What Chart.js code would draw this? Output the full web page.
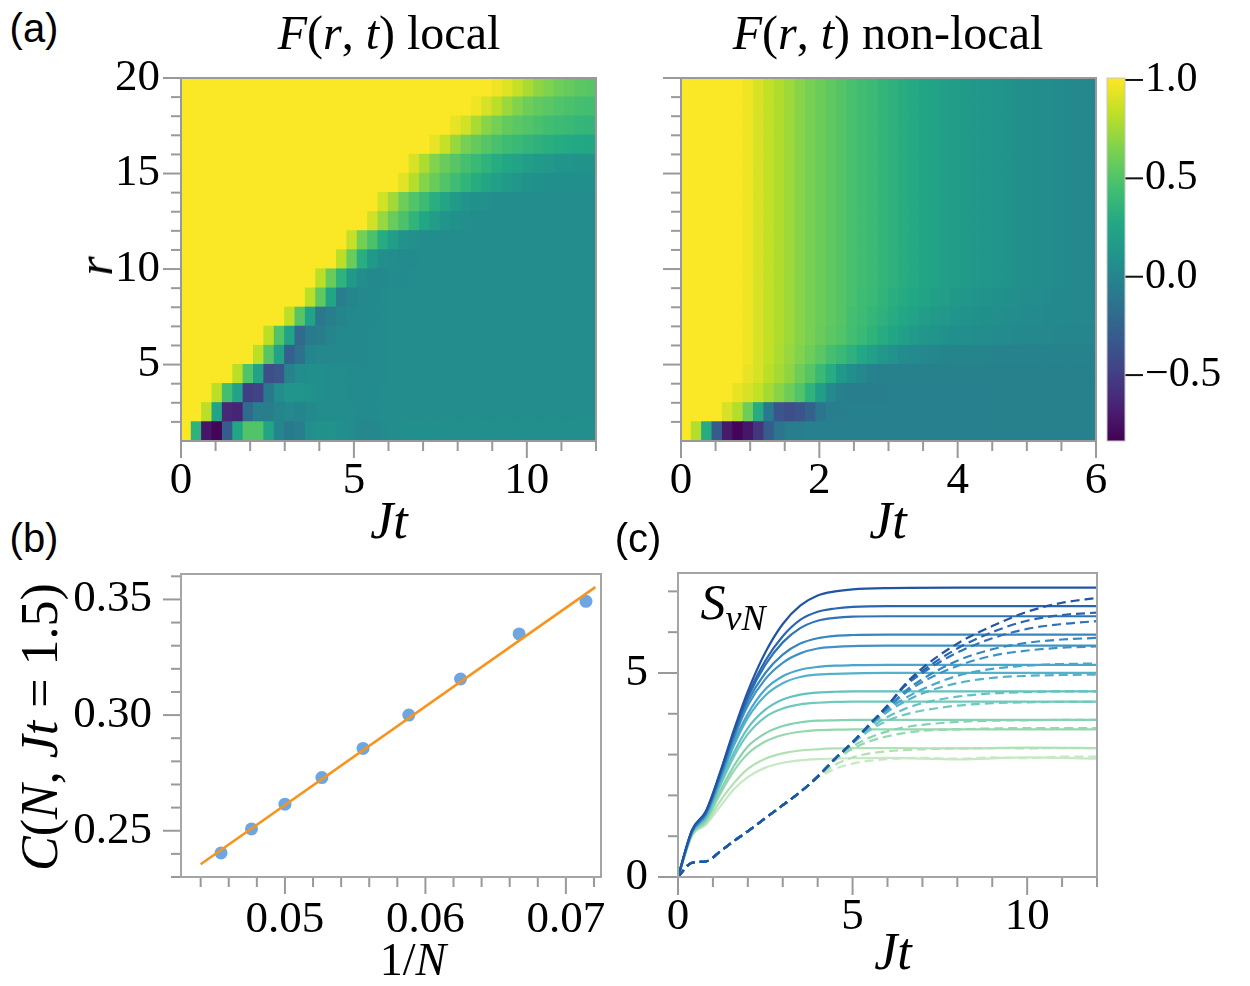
<!DOCTYPE html>
<html>
<head>
<meta charset="utf-8">
<title>F(r,t) local / non-local</title>
<script src="https://cdn.jsdelivr.net/npm/chart.js@4.4.1/dist/chart.umd.min.js"></script>
<style>
  body { margin: 0; width: 1250px; height: 986px; background: #fff; position: relative; overflow: hidden; font-family: 'Liberation Serif', serif; }
  .box { position: absolute; }
  .txt { position: absolute; transform: translate(-50%, -50%); white-space: nowrap; color: #000; line-height: 1; }
  .sans { font-family: 'Liberation Sans', sans-serif; }
  .rot { transform: translate(-50%, -50%) rotate(-90deg); }
</style>
</head>
<body>
<div class="box" style="left:81px;top:48px;width:535px;height:473px"><canvas id="local"></canvas></div>
<div class="box" style="left:661px;top:48px;width:449px;height:473px"><canvas id="nonlocal"></canvas></div>
<div class="box" style="left:1105px;top:48px;width:130px;height:423px"><canvas id="cbar"></canvas></div>
<div class="box" style="left:71px;top:544px;width:550px;height:413px"><canvas id="fit"></canvas></div>
<div class="box" style="left:608px;top:543px;width:509px;height:404px"><canvas id="svn"></canvas></div>

<div class="txt sans" style="left:34px;top:28px;font-size:40px">(a)</div>
<div class="txt" style="left:389px;top:33px;font-size:48px"><i>F</i>(<i>r</i>, <i>t</i>) local</div>
<div class="txt" style="left:888px;top:33px;font-size:48px"><i>F</i>(<i>r</i>, <i>t</i>) non-local</div>
<div class="txt rot" style="left:95px;top:266px;font-size:50px"><i>r</i></div>
<div class="txt" style="left:389px;top:521px;font-size:52px"><i>Jt</i></div>
<div class="txt" style="left:888px;top:521px;font-size:52px"><i>Jt</i></div>
<div class="txt sans" style="left:34px;top:538px;font-size:40px">(b)</div>
<div class="txt rot" style="left:40px;top:727px;font-size:52px"><i>C</i>(<i>N</i>, <i>Jt</i> = 1.5)</div>
<div class="txt" style="left:413px;top:960px;font-size:46px">1/<i>N</i></div>
<div class="txt sans" style="left:638px;top:538px;font-size:40px">(c)</div>
<div class="txt" style="left:733px;top:606px;font-size:50px"><i>S</i><sub style="font-size:36px"><i>vN</i></sub></div>
<div class="txt" style="left:893px;top:952px;font-size:52px"><i>Jt</i></div>

<script>
// ---------- panel (a): heatmap grids ----------
const rValues = [1, 2, 3, 4, 5, 6, 7, 8, 9, 10, 11, 12, 13, 14, 15, 16, 17, 18, 19];
const localTimes = [0.15, 0.45, 0.75, 1.05, 1.35, 1.65, 1.95, 2.25, 2.55, 2.85, 3.15, 3.45, 3.75, 4.05, 4.35, 4.65, 4.95, 5.25, 5.55, 5.85,
  6.15, 6.45, 6.75, 7.05, 7.35, 7.65, 7.95, 8.25, 8.55, 8.85, 9.15, 9.45, 9.75, 10.05, 10.35, 10.65, 10.95, 11.25, 11.55, 11.85];
const nonlocalTimes = [0.075, 0.225, 0.375, 0.525, 0.675, 0.825, 0.975, 1.125, 1.275, 1.425, 1.575, 1.725, 1.875, 2.025, 2.175, 2.325, 2.475, 2.625, 2.775, 2.925,
  3.075, 3.225, 3.375, 3.525, 3.675, 3.825, 3.975, 4.125, 4.275, 4.425, 4.575, 4.725, 4.875, 5.025, 5.175, 5.325, 5.475, 5.625, 5.775, 5.925];

// F(r,t) local, one array per r (r = 1 at the bottom)
const local_r1 = [1, .35, -.72, -.82, -.3, .25, .5, .5, .25, 0, -.08, -.05, .08, .1, .1, .08, .05, .02, .02, .04,
  .06, .07, .08, .08, .08, .07, .07, .07, .07, .07, .07, .07, .07, .07, .07, .07, .07, .07, .07, .07];
const local_r2 = [1, 1, .82, .25, -.62, -.65, -.2, -.05, -.05, 0, .02, 0, .03, .05, .06, .06, .05, .04, .04, .05,
  .06, .06, .06, .06, .06, .06, .06, .06, .06, .06, .06, .06, .06, .06, .06, .06, .06, .06, .06, .06];
const local_r3 = [1, 1, 1, .82, .45, .22, -.5, -.48, -.1, .05, .12, .12, .1, .08, .06, .05, .04, .04, .04, .05,
  .05, .05, .05, .05, .05, .05, .05, .05, .05, .05, .05, .05, .05, .05, .05, .05, .05, .05, .05, .05];
const local_r4 = [1, 1, 1, 1, 1, .82, .5, .22, -.4, -.35, -.02, .05, .08, .08, .06, .05, .04, .04, .04, .04,
  .05, .05, .05, .05, .05, .05, .05, .05, .05, .05, .05, .05, .05, .05, .05, .05, .05, .05, .05, .05];
const local_r5 = [1, 1, 1, 1, 1, 1, 1, .82, .52, .22, -.28, -.15, 0, .02, .03, .03, .03, .03, .04, .04,
  .05, .05, .05, .05, .05, .05, .05, .05, .05, .05, .05, .05, .05, .05, .05, .05, .05, .05, .05, .05];
const local_r6 = [1, 1, 1, 1, 1, 1, 1, 1, .82, .5, .22, -.2, -.08, -.05, 0, .02, .03, .03, .04, .04,
  .05, .05, .05, .05, .05, .05, .05, .05, .05, .05, .05, .05, .05, .05, .05, .05, .05, .05, .05, .05];
const local_r7 = [1, 1, 1, 1, 1, 1, 1, 1, 1, 1, .82, .52, .22, -.1, -.05, 0, .02, .03, .03, .04,
  .05, .05, .05, .05, .05, .05, .05, .05, .05, .05, .05, .05, .05, .05, .05, .05, .05, .05, .05, .05];
const local_r8 = [1, 1, 1, 1, 1, 1, 1, 1, 1, 1, 1, 1, .82, .55, .25, -.05, 0, .02, .03, .04,
  .05, .05, .05, .05, .05, .05, .05, .05, .05, .05, .05, .05, .05, .05, .05, .05, .05, .05, .05, .05];
const local_r9 = [1, 1, 1, 1, 1, 1, 1, 1, 1, 1, 1, 1, 1, .82, .58, .35, .15, .05, .03, .03,
  .04, .04, .05, .05, .05, .05, .05, .05, .05, .05, .05, .05, .05, .05, .05, .05, .05, .05, .05, .05];
const local_r10 = [1, 1, 1, 1, 1, 1, 1, 1, 1, 1, 1, 1, 1, 1, 1, .82, .58, .32, .15, .08,
  .05, .04, .04, .05, .05, .05, .05, .05, .05, .05, .05, .05, .05, .05, .05, .05, .05, .05, .05, .05];
const local_r11 = [1, 1, 1, 1, 1, 1, 1, 1, 1, 1, 1, 1, 1, 1, 1, 1, .85, .62, .48, .3,
  .18, .1, .07, .06, .05, .05, .05, .05, .05, .05, .05, .05, .05, .05, .05, .05, .05, .05, .05, .05];
const local_r12 = [1, 1, 1, 1, 1, 1, 1, 1, 1, 1, 1, 1, 1, 1, 1, 1, 1, 1, .88, .72,
  .58, .48, .36, .26, .18, .12, .09, .07, .06, .06, .06, .06, .06, .06, .06, .06, .06, .06, .06, .06];
const local_r13 = [1, 1, 1, 1, 1, 1, 1, 1, 1, 1, 1, 1, 1, 1, 1, 1, 1, 1, 1, .88,
  .75, .6, .5, .42, .32, .24, .17, .12, .09, .07, .06, .06, .06, .06, .06, .06, .06, .06, .06, .06];
const local_r14 = [1, 1, 1, 1, 1, 1, 1, 1, 1, 1, 1, 1, 1, 1, 1, 1, 1, 1, 1, 1,
  1, .93, .8, .67, .58, .5, .43, .36, .3, .25, .2, .16, .13, .1, .09, .08, .08, .08, .08, .08];
const local_r15 = [1, 1, 1, 1, 1, 1, 1, 1, 1, 1, 1, 1, 1, 1, 1, 1, 1, 1, 1, 1,
  1, 1, .9, .78, .66, .58, .52, .46, .4, .35, .3, .26, .22, .19, .16, .14, .12, .11, .1, .1];
const local_r16 = [1, 1, 1, 1, 1, 1, 1, 1, 1, 1, 1, 1, 1, 1, 1, 1, 1, 1, 1, 1,
  1, 1, 1, 1, .95, .85, .72, .63, .57, .52, .47, .43, .4, .37, .34, .32, .3, .28, .27, .26];
const local_r17 = [1, 1, 1, 1, 1, 1, 1, 1, 1, 1, 1, 1, 1, 1, 1, 1, 1, 1, 1, 1,
  1, 1, 1, 1, 1, 1, .95, .88, .77, .68, .62, .57, .53, .5, .47, .44, .42, .4, .38, .37];
const local_r18 = [1, 1, 1, 1, 1, 1, 1, 1, 1, 1, 1, 1, 1, 1, 1, 1, 1, 1, 1, 1,
  1, 1, 1, 1, 1, 1, 1, 1, .97, .9, .82, .73, .66, .6, .56, .53, .5, .48, .46, .45];
const local_r19 = [1, 1, 1, 1, 1, 1, 1, 1, 1, 1, 1, 1, 1, 1, 1, 1, 1, 1, 1, 1,
  1, 1, 1, 1, 1, 1, 1, 1, 1, 1, .97, .92, .85, .77, .7, .65, .6, .57, .54, .52];

// F(r,t) non-local
const nonlocal_r1 = [1, .8, .3, -.3, -.7, -.82, -.72, -.55, -.3, -.12, -.06, -.05, -.04, -.04, -.04, -.04, -.04, -.04, -.04, -.04,
  -.04, -.04, -.04, -.04, -.04, -.04, -.04, -.04, -.04, -.04, -.03, -.03, -.03, -.03, -.03, -.03, -.03, -.03, -.03, -.03];
const nonlocal_r2 = [1, 1, 1, 1, .9, .8, .6, .3, -.1, -.35, -.4, -.35, -.25, -.12, -.06, -.05, -.04, -.04, -.04, -.04,
  -.04, -.04, -.04, -.04, -.04, -.04, -.04, -.04, -.04, -.04, -.03, -.03, -.03, -.03, -.03, -.03, -.03, -.03, -.03, -.03];
const nonlocal_r3 = [1, 1, 1, 1, 1, .95, .9, .84, .76, .68, .6, .5, .35, .18, .03, -.04, -.05, -.05, -.05, -.05,
  -.04, -.04, -.04, -.04, -.04, -.04, -.04, -.04, -.04, -.04, -.03, -.03, -.03, -.03, -.03, -.03, -.03, -.03, -.03, -.03];
const nonlocal_r4 = [1, 1, 1, 1, 1, 1, .95, .9, .82, .76, .7, .6, .52, .4, .3, .15, .08, .02, -.02, -.03,
  -.03, -.03, -.03, -.03, -.03, -.03, -.03, -.03, -.03, -.03, -.03, -.03, -.03, -.03, -.03, -.03, -.03, -.03, -.03, -.03];
const nonlocal_r5 = [1, 1, 1, 1, 1, 1, .97, .9, .84, .78, .72, .66, .6, .53, .46, .4, .34, .27, .2, .14,
  .1, .06, .04, .02, .01, 0, 0, -.01, -.01, -.01, -.02, -.02, -.02, -.02, -.02, -.02, -.02, -.02, -.02, -.02];
const nonlocal_r6 = [1, 1, 1, 1, 1, 1, .97, .9, .84, .79, .74, .68, .63, .58, .54, .5, .45, .4, .35, .3,
  .25, .2, .16, .13, .11, .09, .08, .07, .06, .05, .04, .04, .03, .03, .02, .02, .01, .01, .01, .01];
const nonlocal_r7 = [1, 1, 1, 1, 1, 1, .97, .9, .84, .79, .74, .68, .63, .59, .55, .51, .46, .42, .38, .34,
  .3, .26, .22, .19, .16, .14, .12, .1, .09, .08, .07, .06, .05, .04, .04, .03, .03, .02, .02, .02];
const nonlocal_r8 = [1, 1, 1, 1, 1, 1, .97, .9, .84, .79, .74, .68, .63, .59, .55, .51, .47, .43, .4, .36,
  .32, .29, .26, .23, .2, .18, .15, .13, .12, .1, .09, .08, .07, .06, .05, .04, .03, .03, .02, .02];
// rows r = 9..19 look the same (vertical stripes)
const nonlocal_far = [1, 1, 1, 1, 1, 1, .97, .9, .84, .79, .74, .68, .63, .59, .55, .51, .47, .44, .41, .37,
  .34, .31, .28, .25, .23, .21, .18, .16, .14, .13, .11, .1, .08, .07, .06, .05, .04, .03, .02, .02];

const localRows = [local_r1, local_r2, local_r3, local_r4, local_r5, local_r6, local_r7, local_r8, local_r9, local_r10,
  local_r11, local_r12, local_r13, local_r14, local_r15, local_r16, local_r17, local_r18, local_r19];
const nonlocalRows = [nonlocal_r1, nonlocal_r2, nonlocal_r3, nonlocal_r4, nonlocal_r5, nonlocal_r6, nonlocal_r7, nonlocal_r8,
  nonlocal_far, nonlocal_far, nonlocal_far, nonlocal_far, nonlocal_far, nonlocal_far, nonlocal_far, nonlocal_far,
  nonlocal_far, nonlocal_far, nonlocal_far];

// tick marks
const localXTicks = [0, 1, 2, 3, 4, 5, 6, 7, 8, 9, 10, 11, 12];
const localXMajor = [0, 5, 10];
const nonlocalXTicks = [0, 0.5, 1, 1.5, 2, 2.5, 3, 3.5, 4, 4.5, 5, 5.5, 6];
const nonlocalXMajor = [0, 2, 4, 6];
const rTicks = [2, 3, 4, 5, 6, 7, 8, 9, 10, 11, 12, 13, 14, 15, 16, 17, 18, 19, 20];
const rMajor = [5, 10, 15, 20];
const cbarTicks = [-0.5, 0, 0.5, 1];
const cMin = -0.835, cMax = 1.01;

// ---------- panel (b) ----------
const invN = [0.04545, 0.04762, 0.05, 0.05263, 0.05556, 0.05882, 0.0625, 0.06667, 0.07143];
const cValues = [0.2404, 0.2508, 0.2615, 0.2730, 0.2856, 0.3000, 0.3156, 0.3351, 0.3492];
const fitX = [0.0440, 0.0721];
const fitY = [0.2355, 0.3553];
const bXTicks = [0.044, 0.046, 0.048, 0.05, 0.052, 0.054, 0.056, 0.058, 0.06, 0.062, 0.064, 0.066, 0.068, 0.07, 0.072];
const bXMajor = [0.05, 0.06, 0.07];
const bYTicks = [0.23, 0.24, 0.25, 0.26, 0.27, 0.28, 0.29, 0.3, 0.31, 0.32, 0.33, 0.34, 0.35, 0.36];
const bYMajor = [0.25, 0.3, 0.35];

// ---------- panel (c) ----------
const tSolid = [0, 0.4, 0.8, 1.2, 1.6, 2, 2.5, 3, 3.5, 4, 4.5, 5, 6, 8, 10, 12];
const solid1 = [0, 1.15, 1.62, 2.55, 3.6, 4.55, 5.5, 6.2, 6.65, 6.9, 7.0, 7.05, 7.08, 7.09, 7.09, 7.09];
const solid2 = [0, 1.14, 1.6, 2.52, 3.55, 4.45, 5.3, 5.9, 6.3, 6.5, 6.58, 6.62, 6.64, 6.64, 6.64, 6.64];
const solid3 = [0, 1.13, 1.58, 2.5, 3.5, 4.4, 5.2, 5.75, 6.1, 6.28, 6.35, 6.38, 6.39, 6.39, 6.39, 6.39];
const solid4 = [0, 1.12, 1.56, 2.45, 3.45, 4.3, 5.0, 5.45, 5.72, 5.85, 5.91, 5.93, 5.94, 5.94, 5.94, 5.94];
const solid5 = [0, 1.11, 1.54, 2.42, 3.4, 4.2, 4.85, 5.25, 5.48, 5.6, 5.64, 5.66, 5.67, 5.67, 5.67, 5.67];
const solid6 = [0, 1.1, 1.52, 2.38, 3.3, 4.0, 4.6, 4.92, 5.08, 5.15, 5.18, 5.19, 5.2, 5.2, 5.2, 5.2];
const solid7 = [0, 1.09, 1.5, 2.35, 3.22, 3.9, 4.45, 4.75, 4.9, 4.96, 4.98, 4.99, 5.0, 5.0, 5.0, 5.0];
const solid8 = [0, 1.08, 1.47, 2.28, 3.05, 3.65, 4.1, 4.35, 4.47, 4.52, 4.54, 4.55, 4.55, 4.55, 4.55, 4.55];
const solid9 = [0, 1.07, 1.44, 2.22, 2.95, 3.5, 3.92, 4.13, 4.23, 4.27, 4.29, 4.3, 4.3, 4.3, 4.3, 4.3];
const solid10 = [0, 1.05, 1.4, 2.1, 2.72, 3.2, 3.52, 3.7, 3.79, 3.83, 3.84, 3.85, 3.85, 3.85, 3.85, 3.85];
const solid11 = [0, 1.04, 1.37, 2.02, 2.6, 3.02, 3.32, 3.48, 3.56, 3.6, 3.61, 3.62, 3.62, 3.62, 3.62, 3.62];
const solid12 = [0, 1.02, 1.32, 1.85, 2.3, 2.65, 2.9, 3.03, 3.1, 3.13, 3.15, 3.16, 3.16, 3.15, 3.17, 3.16];
const solid13 = [0, 1.0, 1.28, 1.72, 2.15, 2.45, 2.68, 2.8, 2.86, 2.89, 2.9, 2.91, 2.92, 2.88, 2.93, 2.9];

const tDashed = [0, 0.4, 0.8, 1.2, 1.6, 2, 2.5, 3, 3.5, 4, 4.5, 5, 5.5, 6, 6.5, 7, 8, 9, 10, 11, 12];
const dashed1 = [0, .35, .38, .62, .88, 1.12, 1.44, 1.76, 2.08, 2.46, 2.9, 3.3, 3.75, 4.2, 4.72, 5.12, 5.72, 6.15, 6.5, 6.72, 6.84];
const dashed2 = [0, .35, .38, .62, .88, 1.12, 1.44, 1.76, 2.08, 2.46, 2.9, 3.3, 3.75, 4.2, 4.7, 5.05, 5.6, 6.0, 6.28, 6.42, 6.48];
const dashed3 = [0, .35, .38, .62, .88, 1.12, 1.44, 1.76, 2.08, 2.46, 2.9, 3.3, 3.75, 4.2, 4.68, 5.0, 5.5, 5.85, 6.08, 6.2, 6.27];
const dashed4 = [0, .35, .38, .62, .88, 1.12, 1.44, 1.76, 2.08, 2.46, 2.9, 3.3, 3.75, 4.15, 4.55, 4.85, 5.3, 5.58, 5.74, 5.82, 5.86];
const dashed5 = [0, .35, .38, .62, .88, 1.12, 1.44, 1.76, 2.08, 2.46, 2.9, 3.3, 3.75, 4.13, 4.5, 4.78, 5.17, 5.42, 5.55, 5.62, 5.65];
const dashed6 = [0, .35, .38, .62, .88, 1.12, 1.44, 1.76, 2.08, 2.46, 2.9, 3.3, 3.72, 4.1, 4.38, 4.6, 4.93, 5.1, 5.18, 5.22, 5.23];
const dashed7 = [0, .35, .38, .62, .88, 1.12, 1.44, 1.76, 2.08, 2.46, 2.9, 3.3, 3.7, 4.05, 4.3, 4.5, 4.75, 4.88, 4.93, 4.95, 4.96];
const dashed8 = [0, .35, .38, .62, .88, 1.12, 1.44, 1.76, 2.08, 2.46, 2.9, 3.28, 3.65, 3.92, 4.12, 4.26, 4.42, 4.5, 4.53, 4.55, 4.55];
const dashed9 = [0, .35, .38, .62, .88, 1.12, 1.44, 1.76, 2.08, 2.46, 2.9, 3.27, 3.6, 3.83, 3.98, 4.08, 4.2, 4.26, 4.28, 4.29, 4.29];
const dashed10 = [0, .35, .38, .62, .88, 1.12, 1.44, 1.76, 2.08, 2.46, 2.88, 3.2, 3.42, 3.57, 3.67, 3.73, 3.8, 3.83, 3.84, 3.85, 3.85];
const dashed11 = [0, .35, .38, .62, .88, 1.12, 1.44, 1.76, 2.08, 2.46, 2.86, 3.14, 3.33, 3.45, 3.53, 3.58, 3.62, 3.64, 3.65, 3.65, 3.65];
const dashed12 = [0, .35, .38, .62, .88, 1.12, 1.44, 1.76, 2.08, 2.45, 2.75, 2.93, 3.03, 3.08, 3.11, 3.13, 3.15, 3.16, 3.15, 3.16, 3.16];
const dashed13 = [0, .35, .38, .62, .88, 1.12, 1.44, 1.76, 2.08, 2.43, 2.65, 2.78, 2.85, 2.89, 2.91, 2.92, 2.9, 2.93, 2.91, 2.95, 2.95];

const solidCurves = [solid1, solid2, solid3, solid4, solid5, solid6, solid7, solid8, solid9, solid10, solid11, solid12, solid13];
const dashedCurves = [dashed1, dashed2, dashed3, dashed4, dashed5, dashed6, dashed7, dashed8, dashed9, dashed10, dashed11, dashed12, dashed13];
const curveColors = ['#2155a4', '#2966af', '#2f72b5', '#3886be', '#4192c3', '#4aa6ca', '#53b2ca',
  '#63c2c1', '#70c9bb', '#86d2b2', '#96d8ae', '#b0e1b3', '#c6e9c3'];
const cXTicks = [0, 1, 2, 3, 4, 5, 6, 7, 8, 9, 10, 11, 12];
const cXMajor = [0, 5, 10];
const cYTicks = [0, 1, 2, 3, 4, 5, 6, 7];
const cYMajor = [0, 5];

localRows.concat(nonlocalRows).forEach((row, i) => {
  if (row.length !== 40) throw new Error('heatmap row ' + i + ' has ' + row.length + ' cells');
});

// ---------- helpers ----------
const SERIF = 'Liberation Serif';
Chart.defaults.font.family = SERIF;
Chart.defaults.color = '#000';

const viridisStops = ['#440154', '#482475', '#414487', '#355f8d', '#2a788e', '#21918c', '#22a884', '#44bf70', '#7ad151', '#bddf26', '#fde725'];
function hexRgb(h) { return [parseInt(h.slice(1, 3), 16), parseInt(h.slice(3, 5), 16), parseInt(h.slice(5, 7), 16)]; }
function viridis(f) {
  f = Math.max(0, Math.min(1, f));
  const p = f * 10, i = Math.min(9, Math.floor(p)), u = p - i;
  const a = hexRgb(viridisStops[i]), b = hexRgb(viridisStops[i + 1]);
  return 'rgb(' + a.map((c, k) => Math.round(c + (b[k] - c) * u)).join(',') + ')';
}
function colorFor(v) { return viridis((v - cMin) / (cMax - cMin)); }

function heatDatasets(rows, times) {
  return rows.map((vals, j) => ({
    data: times.map(t => ({ x: t, y: [rValues[j], rValues[j] + 1] })),
    backgroundColor: vals.map(colorFor),
    borderWidth: 0,
    inflateAmount: 0.6,
    barPercentage: 1,
    categoryPercentage: 1,
    grouped: false
  }));
}

function axis(vals, majors, fmt, o) {
  return {
    type: 'linear', min: o.min, max: o.max, offset: false, position: o.position,
    grid: { display: false, drawTicks: false },
    border: { display: false },
    afterBuildTicks: s => { s.ticks = vals.map(v => ({ value: v })); },
    afterFit: s => {
      if (s.isHorizontal()) s.height = o.size; else s.width = o.size;
      s.paddingTop = 0; s.paddingBottom = 0; s.paddingLeft = 0; s.paddingRight = 0;
    },
    ticks: {
      autoSkip: false, maxRotation: 0, minRotation: 0, padding: o.padding, color: '#000',
      font: { family: SERIF, size: o.font || 45 },
      callback: v => majors.includes(v) ? fmt(v) : ''
    }
  };
}

// draws the tick marks (long major, short minor) and the frame round the plot
const frameTicks = {
  id: 'frameTicks',
  afterDraw(chart, args, opts) {
    const ctx = chart.ctx, a = chart.chartArea;
    ctx.save();
    ctx.lineWidth = opts.width || 2;
    ctx.strokeStyle = opts.color;
    ['x', 'y'].forEach(id => {
      const s = chart.scales[id], o = opts[id];
      if (!s || !o) return;
      s.ticks.forEach(t => {
        const p = s.getPixelForValue(t.value);
        const len = o.major.includes(t.value) ? o.majorLen : o.minorLen;
        ctx.beginPath();
        if (id === 'x') { ctx.moveTo(p, a.bottom); ctx.lineTo(p, a.bottom + len); }
        else if (s.position === 'right') { ctx.moveTo(a.right, p); ctx.lineTo(a.right + len, p); }
        else { ctx.moveTo(a.left, p); ctx.lineTo(a.left - len, p); }
        ctx.stroke();
      });
    });
    if (opts.frame) {
      ctx.strokeStyle = opts.frame;
      ctx.lineWidth = opts.frameWidth || 2;
      ctx.strokeRect(a.left, a.top, a.right - a.left, a.bottom - a.top);
    }
    ctx.restore();
  }
};

// colour strip of the colour bar
const colorStrip = {
  id: 'colorStrip',
  beforeDatasetsDraw(chart) {
    const ctx = chart.ctx, a = chart.chartArea;
    const g = ctx.createLinearGradient(0, a.bottom, 0, a.top);
    viridisStops.forEach((c, i) => g.addColorStop(i / 10, c));
    ctx.save();
    ctx.fillStyle = g;
    ctx.fillRect(a.left, a.top, a.right - a.left, a.bottom - a.top);
    ctx.restore();
  }
};

const base = {
  animation: false,
  responsive: true,
  maintainAspectRatio: false
};
const noLegend = { legend: { display: false }, tooltip: { enabled: false } };

// ---------- (a) local ----------
new Chart(document.getElementById('local'), {
  type: 'bar',
  data: { datasets: heatDatasets(localRows, localTimes) },
  options: Object.assign({}, base, {
    layout: { padding: { top: 30, right: 20, left: 0, bottom: 0 } },
    plugins: Object.assign({}, noLegend, {
      frameTicks: {
        color: '#999', frame: '#999',
        x: { major: localXMajor, majorLen: 17, minorLen: 10 },
        y: { major: rMajor, majorLen: 18, minorLen: 10 }
      }
    }),
    scales: {
      x: axis(localXTicks, localXMajor, v => String(v), { min: 0, max: 12, padding: 13, size: 80 }),
      y: axis(rTicks, rMajor, v => String(v), { min: 1, max: 20, padding: 21, size: 100 })
    }
  }),
  plugins: [frameTicks]
});

// ---------- (a) non-local ----------
new Chart(document.getElementById('nonlocal'), {
  type: 'bar',
  data: { datasets: heatDatasets(nonlocalRows, nonlocalTimes) },
  options: Object.assign({}, base, {
    layout: { padding: { top: 30, right: 14, left: 0, bottom: 0 } },
    plugins: Object.assign({}, noLegend, {
      frameTicks: {
        color: '#999', frame: '#999',
        x: { major: nonlocalXMajor, majorLen: 17, minorLen: 10 },
        y: { major: rMajor, majorLen: 18, minorLen: 10 }
      }
    }),
    scales: {
      x: axis(nonlocalXTicks, nonlocalXMajor, v => String(v), { min: 0, max: 6, padding: 13, size: 80 }),
      y: axis(rTicks, [], v => '', { min: 1, max: 20, padding: 0, size: 20 })
    }
  }),
  plugins: [frameTicks]
});

// ---------- colour bar ----------
new Chart(document.getElementById('cbar'), {
  type: 'scatter',
  data: { datasets: [] },
  options: Object.assign({}, base, {
    layout: { padding: { top: 30, bottom: 30, left: 2, right: 0 } },
    plugins: Object.assign({}, noLegend, {
      frameTicks: {
        color: '#111', frame: '#c8c8c8', frameWidth: 1,
        y: { major: cbarTicks, majorLen: 18, minorLen: 18 }
      }
    }),
    scales: {
      x: { display: false, min: 0, max: 1 },
      y: axis(cbarTicks, cbarTicks, v => (v < 0 ? '\u2212' : '') + Math.abs(v).toFixed(1),
        { min: cMin, max: cMax, position: 'right', padding: 20, size: 110, font: 42 })
    }
  }),
  plugins: [colorStrip, frameTicks]
});

// ---------- (b) ----------
new Chart(document.getElementById('fit'), {
  type: 'scatter',
  data: {
    datasets: [
      {
        type: 'line',
        data: fitX.map((x, i) => ({ x: x, y: fitY[i] })),
        borderColor: '#f7941d',
        borderWidth: 2.6,
        pointRadius: 0,
        fill: false
      },
      {
        data: invN.map((x, i) => ({ x: x, y: cValues[i] })),
        backgroundColor: 'rgba(84, 150, 218, 0.85)',
        pointRadius: 6.5,
        borderWidth: 0
      }
    ]
  },
  options: Object.assign({}, base, {
    layout: { padding: { top: 30, right: 20, left: 0, bottom: 0 } },
    plugins: Object.assign({}, noLegend, {
      frameTicks: {
        color: '#999', frame: '#a5a5a5',
        x: { major: bXMajor, majorLen: 17, minorLen: 10 },
        y: { major: bYMajor, majorLen: 18, minorLen: 10 }
      }
    }),
    scales: {
      x: axis(bXTicks, bXMajor, v => v.toFixed(2), { min: 0.0426, max: 0.0725, padding: 16, size: 80 }),
      y: axis(bYTicks, bYMajor, v => v.toFixed(2), { min: 0.23, max: 0.361, padding: 29, size: 110 })
    }
  }),
  plugins: [frameTicks]
});

// ---------- (c) ----------
const svnSets = [];
dashedCurves.forEach((c, i) => svnSets.push({
  data: tDashed.map((t, k) => ({ x: t, y: c[k] })),
  borderColor: curveColors[i], borderWidth: 2.2, borderDash: [9, 5]
}));
solidCurves.forEach((c, i) => svnSets.push({
  data: tSolid.map((t, k) => ({ x: t, y: c[k] })),
  borderColor: curveColors[i], borderWidth: 2.2
}));
svnSets.forEach(d => Object.assign(d, { showLine: true, pointRadius: 0, cubicInterpolationMode: 'monotone', fill: false }));

new Chart(document.getElementById('svn'), {
  type: 'scatter',
  data: { datasets: svnSets },
  options: Object.assign({}, base, {
    layout: { padding: { top: 30, right: 20, left: 0, bottom: 0 } },
    plugins: Object.assign({}, noLegend, {
      frameTicks: {
        color: '#999', frame: '#a5a5a5',
        x: { major: cXMajor, majorLen: 18, minorLen: 10 },
        y: { major: cYMajor, majorLen: 20, minorLen: 10 }
      }
    }),
    scales: {
      x: axis(cXTicks, cXMajor, v => String(v), { min: 0, max: 12, padding: 13, size: 70 }),
      y: axis(cYTicks, cYMajor, v => String(v), { min: 0, max: 7.45, padding: 30, size: 70 })
    }
  }),
  plugins: [frameTicks]
});
</script>
</body>
</html>
